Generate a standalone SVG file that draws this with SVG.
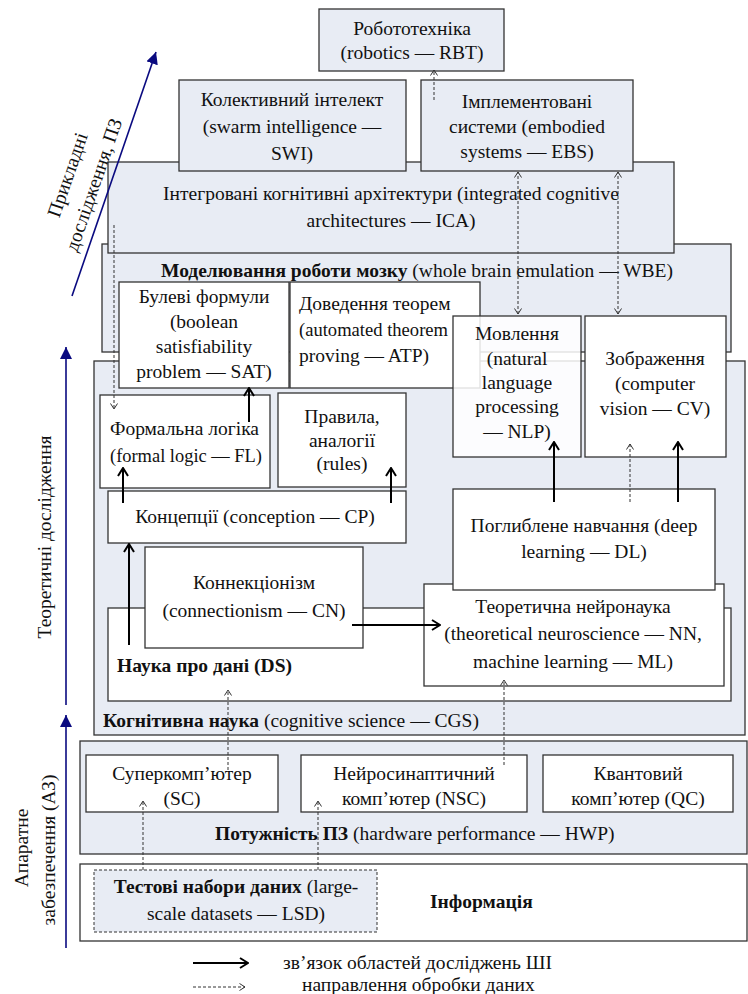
<svg xmlns="http://www.w3.org/2000/svg" width="748" height="994" viewBox="0 0 748 994">
<style>
.t{font-family:"Liberation Serif","Times New Roman",serif;font-size:19.5px;fill:#111}
.m{text-anchor:middle}
.b{font-weight:bold}
.lb{fill:#e8ecf4;stroke:#333;stroke-width:1.3}
.wb{fill:#fff;stroke:#333;stroke-width:1.3}
.sl{stroke:#000;stroke-width:2;fill:none;marker-end:url(#ah)}
.dl{stroke:#333;stroke-width:1;stroke-dasharray:3,2;fill:none;marker-end:url(#dh)}
.nv{stroke:#0a0a80;stroke-width:1.6;fill:none;marker-end:url(#nh)}
</style>
<defs>
<marker id="ah" viewBox="0 0 12 12" refX="11" refY="6" markerWidth="12" markerHeight="12" markerUnits="userSpaceOnUse" orient="auto"><path d="M3,1 L11,6 L3,11" fill="none" stroke="#000" stroke-width="2"/></marker>
<marker id="dh" viewBox="0 0 8 8" refX="7.5" refY="4" markerWidth="8" markerHeight="8" markerUnits="userSpaceOnUse" orient="auto-start-reverse"><path d="M2,0.5 L7.5,4 L2,7.5" fill="none" stroke="#333" stroke-width="1"/></marker>
<marker id="nh" viewBox="0 0 12 12" refX="12" refY="6" markerWidth="12" markerHeight="12" markerUnits="userSpaceOnUse" orient="auto"><path d="M0,0 L12,6 L0,12 z" fill="#0a0a80"/></marker>
</defs>
<rect width="748" height="994" fill="#fff"/>

<g id="wbe"><rect class="lb" x="102" y="244" width="629" height="108"/>
<text class="t m" x="417" y="277"><tspan class="b">Моделювання роботи мозку</tspan> (whole brain emulation — WBE)</text></g>
<g id="ica"><rect class="lb" x="108" y="162" width="566" height="91"/>
<text class="t m" x="391" y="200">Інтегровані когнітивні архітектури (integrated cognitive</text>
<text class="t m" x="391" y="227">architectures — ICA)</text></g>
<g id="swi"><rect class="lb" x="179" y="80" width="227" height="91"/>
<text class="t m" x="292" y="106">Колективний інтелект</text>
<text class="t m" x="292" y="133">(swarm intelligence —</text>
<text class="t m" x="292" y="160">SWI)</text></g>
<g id="ebs"><rect class="lb" x="421" y="80" width="212" height="91"/>
<text class="t m" x="527" y="108">Імплементовані</text>
<text class="t m" x="527" y="133">системи (embodied</text>
<text class="t m" x="527" y="158">systems — EBS)</text></g>
<g id="rbt"><rect class="lb" x="319" y="9" width="185" height="62"/>
<text class="t m" x="412" y="35">Робототехніка</text>
<text class="t m" x="412" y="59">(robotics — RBT)</text></g>

<g id="cgs"><rect class="lb" x="94" y="361" width="651" height="374"/>
<text class="t" x="103" y="727"><tspan class="b">Когнітивна наука</tspan> (cognitive science — CGS)</text></g>
<g id="ds"><rect class="wb" x="108" y="608" width="623" height="93"/>
<text class="t b" x="117" y="672">Наука про дані (DS)</text></g>
<g id="cn"><rect class="wb" x="145" y="547" width="218" height="101"/>
<text class="t m" x="254" y="589">Коннекціонізм</text>
<text class="t m" x="254" y="617">(connectionism — CN)</text></g>
<g id="nn"><rect class="wb" x="424" y="584" width="300" height="102"/>
<text class="t m" x="573" y="613">Теоретична нейронаука</text>
<text class="t m" x="573" y="640">(theoretical neuroscience — NN,</text>
<text class="t m" x="573" y="668">machine learning — ML)</text></g>
<g id="dl"><rect class="wb" x="453" y="489" width="262" height="101"/>
<text class="t m" x="584" y="532">Поглиблене навчання (deep</text>
<text class="t m" x="584" y="558">learning — DL)</text></g>
<g id="fl"><rect class="wb" x="100" y="395" width="170" height="93"/>
<text class="t" x="110" y="435">Формальна логіка</text>
<text class="t" x="110" y="462" textLength="152" lengthAdjust="spacingAndGlyphs">(formal logic — FL)</text></g>
<g id="rules"><rect class="wb" x="278" y="393" width="128" height="94"/>
<text class="t m" x="342" y="423">Правила,</text>
<text class="t m" x="342" y="447">аналогії</text>
<text class="t m" x="342" y="470">(rules)</text></g>
<g id="cp"><rect class="wb" x="108" y="491" width="298" height="52"/>
<text class="t m" x="255" y="523">Концепції (conception — CP)</text></g>
<g id="sat"><rect class="wb" x="119" y="282" width="170" height="106"/>
<text class="t m" x="204" y="303">Булеві формули</text>
<text class="t m" x="204" y="328">(boolean</text>
<text class="t m" x="204" y="353">satisfiability</text>
<text class="t m" x="204" y="378">problem — SAT)</text></g>
<g id="atp"><rect class="wb" x="290" y="282" width="190" height="106"/>
<text class="t" x="299" y="310">Доведення теорем</text>
<text class="t" x="299" y="336" textLength="149" lengthAdjust="spacingAndGlyphs">(automated theorem</text>
<text class="t" x="299" y="362">proving — ATP)</text></g>
<g id="nlp"><rect x="453" y="316" width="128" height="141" fill="#fff" fill-opacity="0.85" stroke="#333" stroke-width="1.3"/>
<text class="t m" x="517" y="340">Мовлення</text>
<text class="t m" x="517" y="365">(natural</text>
<text class="t m" x="517" y="389">language</text>
<text class="t m" x="517" y="413">processing</text>
<text class="t m" x="517" y="438">— NLP)</text></g>
<g id="cv"><rect class="wb" x="585" y="316" width="141" height="141"/>
<text class="t m" x="655" y="365">Зображення</text>
<text class="t m" x="655" y="390">(computer</text>
<text class="t m" x="655" y="415">vision — CV)</text></g>

<g id="hwp"><rect class="lb" x="80" y="741" width="667" height="113"/>
<text class="t" x="215" y="840"><tspan class="b">Потужність ПЗ</tspan> (hardware performance — HWP)</text></g>
<g id="sc"><rect class="wb" x="86" y="755" width="192" height="57"/>
<text class="t m" x="182" y="780">Суперкомп’ютер</text>
<text class="t m" x="182" y="805">(SC)</text></g>
<g id="nsc"><rect class="wb" x="301" y="755" width="226" height="57"/>
<text class="t m" x="414" y="780">Нейросинаптичний</text>
<text class="t m" x="414" y="805">комп’ютер (NSC)</text></g>
<g id="qc"><rect class="wb" x="543" y="755" width="190" height="57"/>
<text class="t m" x="638" y="780">Квантовий</text>
<text class="t m" x="638" y="805">комп’ютер (QC)</text></g>
<g id="info"><rect class="wb" x="80" y="864" width="667" height="77"/>
<text class="t b" x="430" y="908">Інформація</text></g>
<g id="lsd"><rect x="94" y="870" width="283" height="62" fill="#e8ecf4" stroke="#333" stroke-width="1" stroke-dasharray="3,2"/>
<text class="t m" x="236" y="893"><tspan class="b">Тестові набори даних</tspan> (large-</text>
<text class="t m" x="236" y="920">scale datasets — LSD)</text></g>

<g id="connectors">
<path class="sl" d="M123,503 L123,468"/>
<path class="sl" d="M249,422 L249,388"/>
<path class="sl" d="M391,503 L391,468"/>
<path class="sl" d="M129,645 L129,544"/>
<path class="sl" d="M352,625 L440,625"/>
<path class="sl" d="M554,502 L554,442"/>
<path class="sl" d="M678,502 L678,442"/>
<path class="dl" d="M434,100 L434,70"/>
<path class="dl" d="M518,314 L518,172" style="marker-start:url(#dh)"/>
<path class="dl" d="M618,314 L618,172" style="marker-start:url(#dh)"/>
<path class="dl" d="M114,225 L114,409"/>
<path class="dl" d="M630,502 L630,444"/>
<path class="dl" d="M228,770 L228,690"/>
<path class="dl" d="M504,765 L504,680"/>
<path class="dl" d="M143,870 L143,801"/>
<path class="dl" d="M318,870 L318,801"/>
</g>

<g id="axes">
<path class="nv" d="M72,296 L156,52"/>
<text class="t m" transform="translate(68,175) rotate(-71)" y="6">Прикладні</text>
<text class="t m" transform="translate(94,185) rotate(-71)" y="6">дослідження, ПЗ</text>
<path class="nv" d="M66,705 L66,347"/>
<text class="t m" transform="translate(45,537) rotate(-90)" y="6">Теоретичні дослідження</text>
<path class="nv" d="M66,948 L66,715"/>
<text class="t m" transform="translate(22,848) rotate(-90)" y="6">Апаратне</text>
<text class="t m" transform="translate(49,850) rotate(-90)" y="6">забезпечення (АЗ)</text>
</g>

<g id="legend">
<path class="sl" d="M193,963 L248,963"/>
<text class="t" x="283" y="969">зв’язок областей досліджень ШІ</text>
<path class="dl" d="M193,987 L245,987"/>
<text class="t" x="302" y="991">направлення обробки даних</text>
</g>
</svg>
